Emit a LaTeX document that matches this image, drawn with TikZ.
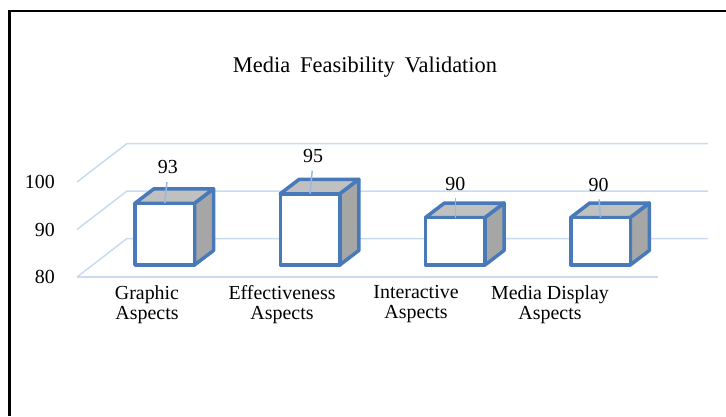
\documentclass[tikz,border=0pt]{standalone}
\usepackage{fontspec}
\setmainfont{Liberation Serif}
\usetikzlibrary{calc}
\definecolor{barblue}{RGB}{72,122,186}
\definecolor{gridblue}{RGB}{202,219,241}
\definecolor{leadblue}{RGB}{150,185,226}
\definecolor{topgray}{RGB}{192,192,192}
\definecolor{sidegray}{RGB}{166,166,166}
\tikzstyle{gridline}=[draw=gridblue, line width=1.5bp]
\tikzstyle{barface}=[draw=barblue, line width=3.5bp, line join=round]
\tikzstyle{leader}=[draw=leadblue, line width=1.5bp]
\tikzstyle{ticklabel}=[anchor=east, inner sep=0pt, font=\fontsize{20}{20}\selectfont]
\tikzstyle{vallabel}=[inner sep=0pt, font=\fontsize{20}{20}\selectfont]
\tikzstyle{catlabel}=[anchor=north, inner sep=0pt, align=center, font=\fontsize{20}{20.5}\selectfont]

\begin{document}
\begin{tikzpicture}[x=1bp, y=1bp]
	\useasboundingbox (0,0) rectangle (726,416);
	% Cadre
	\coordinate (c1) at (726,405);
	\coordinate (c2) at (9.5,405);
	\coordinate (c3) at (9.5,0);
	\draw[line width=2.5bp] (c1) -- (c2) -- (c3);
	% Titre
	\node[font=\fontsize{22.5}{22.5}\selectfont] (title) at (365,349) {Media\hspace{10bp}Feasibility\hspace{10bp}Validation};
	% Grille
	\foreach \v in {80,90,100} {
		\coordinate (f\v) at (77,{139+(\v-80)*4.75});
		\coordinate (b\v) at ($(f\v)+(50,38.5)$);
		\coordinate (e\v) at ($(b\v)+(581,0)$);
		\draw[gridline] (f\v) -- (b\v) -- (e\v);
		\node[ticklabel] (t\v) at ($(f\v)+(-22,0)$) {\v};
	}
	\coordinate (fe80) at ($(f80)+(581,0)$);
	\draw[gridline] (f80) -- (fe80);
	% Barres
	\foreach \i/\v/\dx/\dy in {0/93/3/36, 1/95/3/38, 2/90/0/34, 3/90/-2/33} {
		\coordinate (bl\i) at ({135+145.25*\i},151);
		\coordinate (br\i) at ($(bl\i)+(59.5,0)$);
		\coordinate (tl\i) at ($(bl\i)+(0,{(\v-80)*4.75})$);
		\coordinate (tr\i) at ($(br\i)+(0,{(\v-80)*4.75})$);
		\coordinate (tm\i) at ($(tl\i)!0.5!(tr\i)$);
		\draw[barface, fill=sidegray] (br\i) -- (tr\i) -- ++(19,14.5) -- ($(br\i)+(19,14.5)$) -- cycle;
		\draw[barface, fill=topgray] (tl\i) -- (tr\i) -- ++(19,14.5) -- ($(tl\i)+(19,14.5)$) -- cycle;
		\draw[barface, fill=white] (bl\i) rectangle (tr\i);
		\node[vallabel] (val\i) at ($(tm\i)+(\dx,\dy)$) {\v};
		\draw[leader, shorten <=8bp] (val\i.south) -- (tm\i);
	}
	% Categories
	\node[catlabel] (cat0) at (147,131) {Graphic\\Aspects};
	\node[catlabel] (cat1) at (282,131) {Effectiveness\\Aspects};
	\node[catlabel] (cat2) at (416,131) {Interactive\\Aspects};
	\node[catlabel] (cat3) at (550,131) {Media Display\\Aspects};
\end{tikzpicture}
\end{document}
